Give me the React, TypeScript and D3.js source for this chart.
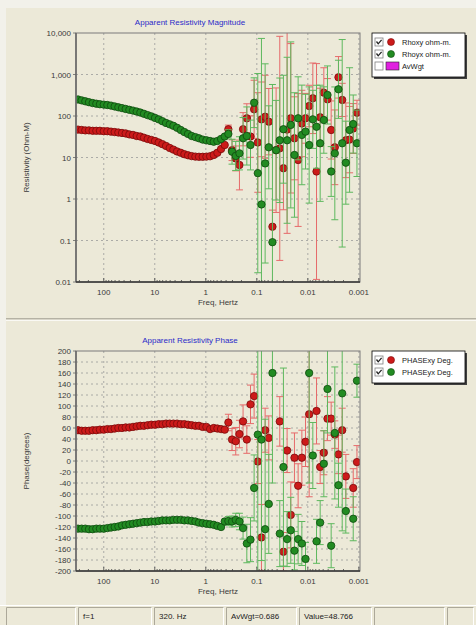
import React from 'react';
import * as d3 from 'd3';

// ---------- DATA ----------
const FREQ = [320, 271, 230, 195, 165, 140, 119, 100, 85.1, 72.1, 61.1, 51.8, 43.9, 37.2, 31.5, 26.7, 22.6, 19.2, 16.3, 13.8,
  11.7, 9.89, 8.38, 7.10, 6.02, 5.10, 4.32, 3.66, 3.10, 2.63, 2.23, 1.89, 1.60, 1.36, 1.15, 0.973, 0.824, 0.699, 0.593, 0.502,
  0.426, 0.361, 0.306, 0.259, 0.219, 0.186, 0.157, 0.133, 0.113, 0.0957, 0.0811, 0.0687, 0.0583, 0.0494, 0.0419, 0.0355, 0.0301,
  0.0255, 0.0216, 0.0183, 0.0155, 0.0131, 0.0111, 0.00942, 0.00798, 0.00676, 0.00573, 0.00486, 0.00412, 0.00349, 0.00296,
  0.00251, 0.00212, 0.00180, 0.00152, 0.00129, 0.00109];

const RHO_XY = [47, 46, 45, 45, 44, 44, 44, 43, 43, 42, 41, 40, 39, 38, 36, 35, 33, 32, 30, 28,
  26.5, 25, 23, 21, 19, 17, 15.5, 14, 13, 12, 11.3, 10.8, 10.5, 10.4, 10.4, 10.5, 10.7, 11.5, 13, 16,
  20, 48, 15, 9.5, 6.6, 48, 88, 32, 145, 23, 83, 96, 73, 0.215, 15, 16.6, 5.5, 47, 88, 29, 8.7, 66, 88, 174,
  267, 4.6, 93, 365, 252, 46, 17.6, 855, 244, 26, 27, 50, 120];
// error half-width in decades
const RHO_XY_ERR = [0.02, 0.02, 0.02, 0.02, 0.02, 0.02, 0.02, 0.02, 0.02, 0.02, 0.02, 0.02, 0.02, 0.02, 0.02, 0.02, 0.02, 0.02, 0.02, 0.02,
  0.02, 0.02, 0.02, 0.02, 0.02, 0.02, 0.02, 0.02, 0.02, 0.02, 0.02, 0.02, 0.02, 0.02, 0.02, 0.02, 0.02, 0.02, 0.03, 0.04,
  0.05, 0.1, 0.25, 0.3, 0.6, 0.4, 0.35, 0.5, 0.7, 1.2, 0.9, 1.0, 0.8, 0.4, 1.5, 2.7, 1.0, 2.5, 1.8, 1.0, 1.6, 0.8, 0.6, 0.5,
  0.85, 2.6, 0.7, 0.6, 0.5, 0.7, 0.9, 0.5, 0.4, 0.9, 0.8, 0.6, 0.3];

const RHO_YX = [250, 238, 226, 215, 205, 198, 192, 188, 184, 178, 170, 162, 155, 148, 141, 135, 128, 121, 113, 105,
  98, 90, 83, 75, 68, 63, 58, 52, 46, 41, 37, 33, 31, 29, 27, 26, 25, 24, 25, 28,
  32, 37, 13.8, 10.9, 12.6, 29, 33, 20, 209, 4.2, 0.74, 7.2, 17.6, 0.091, 15, 26, 48, 26, 61, 11.5, 88, 35, 42, 20,
  83, 55, 22, 80, 321, 4.6, 12.6, 440, 22, 7.5, 46, 64, 22];
const RHO_YX_ERR = [0.02, 0.02, 0.02, 0.02, 0.02, 0.02, 0.02, 0.02, 0.02, 0.02, 0.02, 0.02, 0.02, 0.02, 0.02, 0.02, 0.02, 0.02, 0.02, 0.02,
  0.02, 0.02, 0.02, 0.02, 0.02, 0.02, 0.02, 0.02, 0.02, 0.02, 0.02, 0.02, 0.02, 0.02, 0.02, 0.02, 0.02, 0.02, 0.03, 0.04,
  0.05, 0.1, 0.3, 0.35, 0.4, 0.5, 0.7, 0.6, 0.6, 2.4, 4, 2.4, 1.0, 3.8, 1.2, 1.5, 1.3, 2.0, 2.0, 1.5, 1.0, 1.2, 0.9, 1.4,
  0.7, 1.0, 1.4, 0.8, 0.7, 0.6, 1.6, 0.7, 2.5, 1.0, 1.5, 0.7, 0.8];

const PHASE_XY: (number | null)[] = [56, 55, 55, 55, 56, 56, 57, 57, 58, 58, 59, 60, 60, 61, 61, 62, 63, 64, 64, 65,
  66, 66, 67, 67, 68, 68, 68, 68, 67, 67, 66, 65, 64, 64, 62, 62, 58, 60, 59, 58,
  57, 70, 39, 36, 49, 72, 39, 103, 118, -1, -139, 56, 42, null, null, 72, -165, 19, -98, 6, -45, 6, 35, 85,
  null, 91, -11, 15, 77, 77, 48, 12, 56, -28, null, -49, -2];
const PHASE_XY_ERR = [2, 2, 2, 2, 2, 2, 2, 2, 2, 2, 2, 2, 2, 2, 2, 2, 2, 2, 2, 2,
  2, 2, 2, 2, 2, 2, 2, 2, 2, 2, 2, 2, 2, 2, 2, 2, 3, 3, 3, 4,
  5, 15, 20, 25, 25, 30, 25, 35, 40, 40, 60, 40, 40, 0, 0, 45, 35, 40, 60, 45, 40, 50, 45, 150,
  0, 60, 30, 40, 40, 30, 25, 35, 40, 40, 0, 35, 30];

const PHASE_YX: (number | null)[] = [-123, -123, -123, -124, -124, -123, -123, -123, -122, -121, -120, -119, -117, -116, -115, -114, -113, -112, -111, -111,
  -110, -110, -109, -108, -108, -108, -107, -107, -107, -108, -108, -109, -110, -112, -113, -114, -115, -116, -118, -120,
  -110, -109, -110, -107, -110, -122, -150, -143, -49, 48, 39, -124, -78, 160, null, -132, -11, -142, -126, -163, -142, -150, -178, 160,
  10, -146, -112, -5, 131, -154, 51, -44, 123, -91, null, -105, 146];
const PHASE_YX_ERR = [2, 2, 2, 2, 2, 2, 2, 2, 2, 2, 2, 2, 2, 2, 2, 2, 2, 2, 2, 2,
  2, 2, 2, 2, 2, 2, 2, 2, 2, 2, 2, 2, 2, 2, 2, 2, 3, 3, 3, 4,
  5, 8, 10, 12, 15, 20, 35, 40, 60, 250, 220, 200, 90, 200, 0, 60, 180, 50, 60, 35, 45, 40, 30, 200,
  60, 40, 40, 60, 80, 40, 120, 40, 250, 40, 0, 40, 30];

const X_TICKS = [100, 10, 1, 0.1, 0.01, 0.001];
const X_TICK_LABELS = ['100', '10', '1', '0.1', '0.01', '0.001'];
const RHO_TICKS = [10000, 1000, 100, 10, 1, 0.1, 0.01];
const RHO_TICK_LABELS = ['10,000', '1,000', '100', '10', '1', '0.1', '0.01'];
const PHASE_TICKS = [200, 180, 160, 140, 120, 100, 80, 60, 40, 20, 0, -20, -40, -60, -80, -100, -120, -140, -160, -180, -200];

const RHO_LEGEND = ['Rhoxy ohm-m.', 'Rhoyx ohm-m.', 'AvWgt'];
const PHASE_LEGEND = ['PHASExy Deg.', 'PHASEyx Deg.'];
const STATUS = ['', 'f=1', '320. Hz', 'AvWgt=0.686', 'Value=48.766', '', ''];

// ---------- LAYOUT ----------
const W = 476, H = 625;
const X0 = 76, X1 = 360;
const T1 = 33, B1 = 282;
const T2 = 351, B2 = 571;
const FONT = 'Liberation Sans, Arial, sans-serif';
const BG = '#ECE9D8';
const RED = '#CC1A1A', RED_S = '#7A0A0A', RED_BAR = '#E66A6A';
const GRN = '#228B22', GRN_S = '#0E4A0E', GRN_BAR = '#5EB85E';

const x = d3.scaleLog().domain([350, 0.00095]).range([X0, X1]);
const yR = d3.scaleLog().domain([0.01, 10000]).range([B1, T1]);
const yP = d3.scaleLinear().domain([-200, 200]).range([B2, T2]);

function clampY(v: number, top: number, bot: number) { return Math.max(top, Math.min(bot, v)); }

function Series({ vals, errs, isLog, color, stroke, barColor, y, top, bot }: any) {
  const bars: any[] = [];
  const pts: any[] = [];
  vals.forEach((v: number | null, i: number) => {
    if (v == null) return;
    const cx = x(FREQ[i]);
    const e = errs[i];
    let yHi: number, yLo: number;
    if (isLog) {
      yHi = y(v * Math.pow(10, e));
      yLo = y(v / Math.pow(10, e));
    } else {
      yHi = y(v + e);
      yLo = y(v - e);
    }
    const cHi = clampY(yHi, top, bot), cLo = clampY(yLo, top, bot);
    if (cLo - cHi > 7) {
      bars.push(<line key={'b' + i} x1={cx} x2={cx} y1={cHi} y2={cLo} stroke={barColor} strokeWidth={1} />);
      if (yHi >= top) bars.push(<line key={'h' + i} x1={cx - 3.5} x2={cx + 3.5} y1={cHi} y2={cHi} stroke={barColor} strokeWidth={1} />);
      if (yLo <= bot) bars.push(<line key={'l' + i} x1={cx - 3.5} x2={cx + 3.5} y1={cLo} y2={cLo} stroke={barColor} strokeWidth={1} />);
    }
    const cy = y(v);
    if (cy >= top - 1 && cy <= bot + 1)
      pts.push(<circle key={'p' + i} cx={cx} cy={cy} r={3.7} fill={color} stroke={stroke} strokeWidth={0.8} />);
  });
  return <g>{bars}{pts}</g>;
}

function Frame({ top, bot, yTicks, yLabels, yScale, title, yTitle }: any) {
  return (
    <g fontFamily={FONT}>
      <text x={190} y={top - 8} textAnchor="middle" fontSize={8} fill="#2B2BC8">{title}</text>
      {X_TICKS.map((t: number) => (
        <line key={'gx' + t} x1={x(t)} x2={x(t)} y1={top} y2={bot} stroke="#9A9A9A" strokeDasharray="2,3" strokeWidth={0.8} />
      ))}
      {yTicks.map((t: number, i: number) => (
        (i > 0 && i < yTicks.length - 1) ?
          <line key={'gy' + t} x1={X0} x2={X1} y1={yScale(t)} y2={yScale(t)} stroke="#9A9A9A" strokeDasharray="2,3" strokeWidth={0.8} /> : null
      ))}
      {yTicks.map((t: number, i: number) => (
        <text key={'ly' + t} x={X0 - 5} y={yScale(t) + 3} textAnchor="end" fontSize={8} fill="#3A3A3A">{yLabels[i]}</text>
      ))}
      {X_TICKS.map((t: number, i: number) => (
        <text key={'lx' + t} x={x(t)} y={bot + 13} textAnchor="middle" fontSize={8} fill="#3A3A3A">{X_TICK_LABELS[i]}</text>
      ))}
      <text x={(X0 + X1) / 2} y={bot + 23} textAnchor="middle" fontSize={8} fill="#3A3A3A">Freq, Hertz</text>
      <text transform={`translate(${29},${(top + bot) / 2}) rotate(-90)`} textAnchor="middle" fontSize={8} fill="#3A3A3A">{yTitle}</text>
    </g>
  );
}

function FrameTop({ top, bot, yTicks, yScale }: any) {
  const minor = x.ticks().filter((t: number) => t > 0.00096 && t < 349);
  return (
    <g>
      <rect x={X0} y={top} width={X1 - X0} height={bot - top} fill="none" stroke="#7A7A7A" strokeWidth={1} />
      <line x1={X0} x2={X0} y1={top} y2={bot} stroke="#6A6A6A" strokeWidth={1.6} />
      <line x1={X0} x2={X1} y1={bot} y2={bot} stroke="#333" strokeWidth={1.6} />
      {minor.map((t: number, i: number) => (
        <line key={'mt' + i} x1={x(t)} x2={x(t)} y1={bot} y2={bot - (X_TICKS.includes(t) ? 4 : 2)} stroke="#444" strokeWidth={0.8} />
      ))}
      {yTicks.map((t: number) => (
        <line key={'yt' + t} x1={X0 - 3} x2={X0} y1={yScale(t)} y2={yScale(t)} stroke="#666" strokeWidth={0.8} />
      ))}
    </g>
  );
}

function CheckBox({ cx, cy, checked }: any) {
  return (
    <g>
      <rect x={cx - 4} y={cy - 4} width={8} height={8} fill="#fff" stroke="#7F7F7F" strokeWidth={0.8} />
      {checked && <path d={`M${cx - 2.5},${cy - 0.5} L${cx - 0.8},${cy + 1.8} L${cx + 2.6},${cy - 2.2}`} fill="none" stroke="#222" strokeWidth={1.3} />}
    </g>
  );
}

function Legend({ top, labels, kinds }: any) {
  const lx = 372, lw = 93;
  const rowH = 12;
  const h = labels.length * rowH + 8;
  return (
    <g fontFamily={FONT}>
      <rect x={lx + 2} y={top + 2} width={lw} height={h} fill="#404040" />
      <rect x={lx} y={top} width={lw} height={h} fill="#fff" stroke="#000" strokeWidth={0.8} />
      {labels.map((lab: string, i: number) => {
        const cy = top + 9 + i * rowH;
        const k = kinds[i];
        return (
          <g key={lab}>
            <CheckBox cx={379} cy={cy} checked={k !== 'mag'} />
            {k === 'red' && <circle cx={391} cy={cy} r={3.5} fill={RED} stroke={RED_S} strokeWidth={0.6} />}
            {k === 'grn' && <circle cx={391} cy={cy} r={3.5} fill={GRN} stroke={GRN_S} strokeWidth={0.6} />}
            {k === 'mag' && <rect x={386} y={cy - 4} width={13} height={8} fill="#E020E0" stroke="#222" strokeWidth={0.6} />}
            <text x={402} y={cy + 3} fontSize={7.5} fill="#222">{lab}</text>
          </g>
        );
      })}
    </g>
  );
}

function StatusBar() {
  const edges = [6, 78, 154, 226, 299, 374, 447, 476];
  return (
    <g fontFamily={FONT}>
      <rect x={0} y={605} width={W} height={20} fill={BG} />
      <line x1={0} x2={W} y1={605.5} y2={605.5} stroke="#fff" />
      {edges.slice(0, -1).map((e, i) => {
        const w = edges[i + 1] - e - 2;
        return (
          <g key={i}>
            <path d={`M${e + 0.5},${625} V${607.5} H${e + w}`} fill="none" stroke="#ACA899" />
            <path d={`M${e + w - 0.5},${607.5} V${625}`} fill="none" stroke="#fff" />
            {STATUS[i] && <text x={e + 5} y={619} fontSize={8} fill="#222">{STATUS[i]}</text>}
          </g>
        );
      })}
    </g>
  );
}

export default function App() {
  return (
    <div style={{ position: 'absolute', left: 0, top: 0 }}>
      <svg width={W} height={H} style={{ display: 'block' }}>
        <rect x={0} y={0} width={W} height={H} fill="#F2F1EA" />
        <rect x={6} y={8} width={W - 6} height={H - 8} fill={BG} />
        <line x1={6} x2={W} y1={318.5} y2={318.5} stroke="#B5B2A4" strokeWidth={1} />
        <line x1={6} x2={W} y1={319.5} y2={319.5} stroke="#D8D5C8" strokeWidth={1} />
        <line x1={6} x2={W} y1={320.5} y2={320.5} stroke="#FAF9F4" strokeWidth={1} />

        <Frame top={T1} bot={B1} yTicks={RHO_TICKS} yLabels={RHO_TICK_LABELS} yScale={yR}
          title="Apparent Resistivity Magnitude" yTitle="Resistivity (Ohm-M)" />
        <Frame top={T2} bot={B2} yTicks={PHASE_TICKS} yLabels={PHASE_TICKS.map(String)} yScale={yP}
          title="Apparent Resistivity Phase" yTitle="Phase(degrees)" />
        <defs>
          <clipPath id="c1"><rect x={X0} y={T1} width={X1 - X0} height={B1 - T1} /></clipPath>
          <clipPath id="c2"><rect x={X0} y={T2} width={X1 - X0} height={B2 - T2} /></clipPath>
        </defs>
        <g clipPath="url(#c1)">
          <Series vals={RHO_XY} errs={RHO_XY_ERR} isLog color={RED} stroke={RED_S} barColor={RED_BAR} y={yR} top={T1} bot={B1} />
          <Series vals={RHO_YX} errs={RHO_YX_ERR} isLog color={GRN} stroke={GRN_S} barColor={GRN_BAR} y={yR} top={T1} bot={B1} />
        </g>
        <g clipPath="url(#c2)">
          <Series vals={PHASE_XY} errs={PHASE_XY_ERR} color={RED} stroke={RED_S} barColor={RED_BAR} y={yP} top={T2} bot={B2} />
          <Series vals={PHASE_YX} errs={PHASE_YX_ERR} color={GRN} stroke={GRN_S} barColor={GRN_BAR} y={yP} top={T2} bot={B2} />
        </g>
        <FrameTop top={T1} bot={B1} yTicks={RHO_TICKS} yScale={yR} />
        <FrameTop top={T2} bot={B2} yTicks={PHASE_TICKS} yScale={yP} />
        <Legend top={T1} labels={RHO_LEGEND} kinds={['red', 'grn', 'mag']} />
        <Legend top={T2} labels={PHASE_LEGEND} kinds={['red', 'grn']} />

        <StatusBar />
      </svg>
    </div>
  );
}
